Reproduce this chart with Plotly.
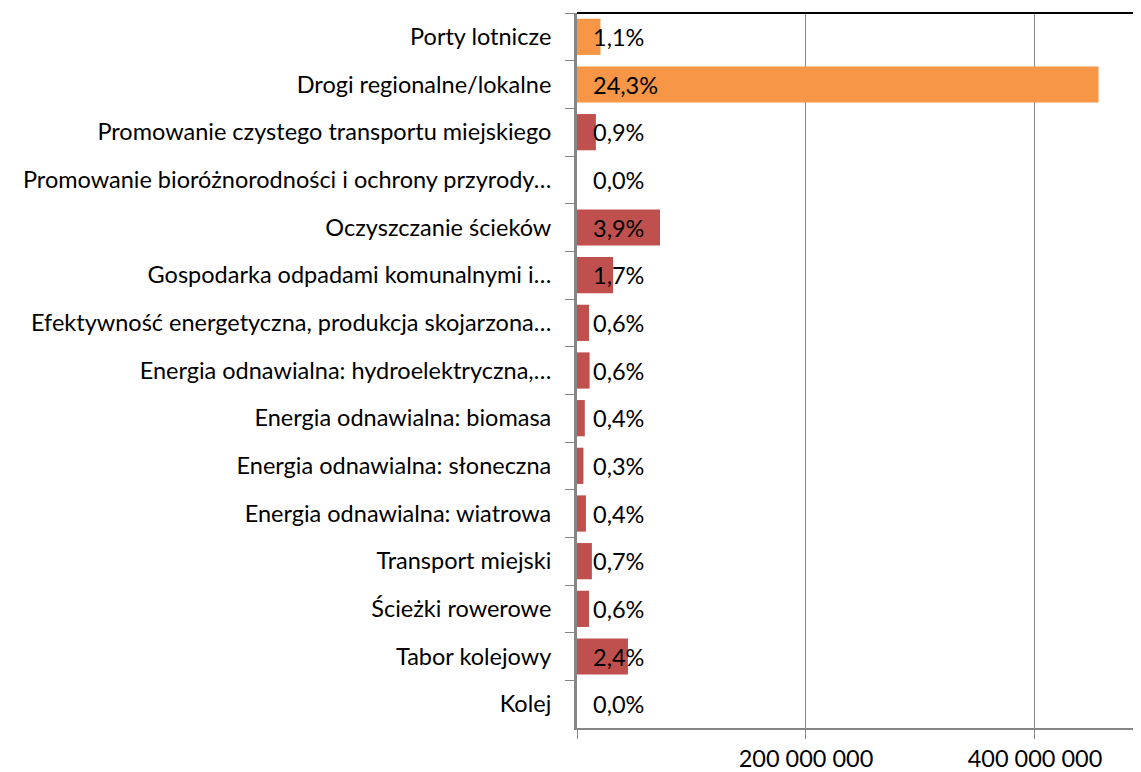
import plotly.graph_objects as go

categories = [
    "Porty lotnicze",
    "Drogi regionalne/lokalne",
    "Promowanie czystego transportu miejskiego",
    "Promowanie bioróżnorodności i ochrony przyrody…",
    "Oczyszczanie ścieków",
    "Gospodarka odpadami komunalnymi i…",
    "Efektywność energetyczna, produkcja skojarzona…",
    "Energia odnawialna: hydroelektryczna,…",
    "Energia odnawialna: biomasa",
    "Energia odnawialna: słoneczna",
    "Energia odnawialna: wiatrowa",
    "Transport miejski",
    "Ścieżki rowerowe",
    "Tabor kolejowy",
    "Kolej",
]
values = [20_500_000, 455_500_000, 16_500_000, 0, 72_500_000, 31_500_000,
          10_500_000, 11_000_000, 6_800_000, 5_600_000, 7_800_000,
          13_000_000, 10_500_000, 44_500_000, 0]
pct_labels = ["1,1%", "24,3%", "0,9%", "0,0%", "3,9%", "1,7%", "0,6%", "0,6%",
              "0,4%", "0,3%", "0,4%", "0,7%", "0,6%", "2,4%", "0,0%"]
highlight = [True, True] + [False] * 13

tick_vals = [0, 200_000_000, 400_000_000]
tick_text = ["", "200 000 000", "400 000 000"]

ORANGE = "#F79646"
RED = "#C0504D"
GRAY = "#868686"
FONT = "Lato, sans-serif"
FS = 23.5

colors = [ORANGE if h else RED for h in highlight]

fig = go.Figure()
fig.add_trace(go.Bar(
    y=categories, x=values, orientation="h",
    marker=dict(color=colors, line=dict(width=0)),
    hoverinfo="x+y",
))

for c, t in zip(categories, pct_labels):
    fig.add_annotation(x=0, y=c, xref="x", yref="y", text=t, showarrow=False,
                       xanchor="left", xshift=14,
                       font=dict(family=FONT, size=FS, color="black"))

fig.add_shape(type="line", xref="paper", yref="paper", x0=0, x1=1, y0=1, y1=1,
              line=dict(color="black", width=2))

fig.update_layout(
    width=1133, height=764,
    margin=dict(l=569, r=0, t=5, b=44),
    paper_bgcolor="white", plot_bgcolor="white",
    bargap=0.24,
    showlegend=False,
    font=dict(family=FONT, size=FS, color="black"),
)
fig.update_xaxes(
    range=[0, 492_600_000],
    tickvals=tick_vals, ticktext=tick_text,
    showgrid=True, gridcolor=GRAY, gridwidth=1,
    showline=True, linecolor=GRAY, linewidth=2,
    ticks="outside", ticklen=9, tickcolor=GRAY, tickwidth=1,
    ticklabelstandoff=0,
    zeroline=False, automargin=False,
    tickfont=dict(family=FONT, size=FS, color="black"),
)
fig.update_yaxes(
    autorange="reversed",
    type="category",
    tickson="boundaries",
    showline=True, linecolor=GRAY, linewidth=3,
    ticks="outside", ticklen=9, tickcolor=GRAY, tickwidth=1,
    ticklabelstandoff=18,
    showgrid=False, automargin=False,
    tickfont=dict(family=FONT, size=FS, color="black"),
)

fig.write_html("out.html")
